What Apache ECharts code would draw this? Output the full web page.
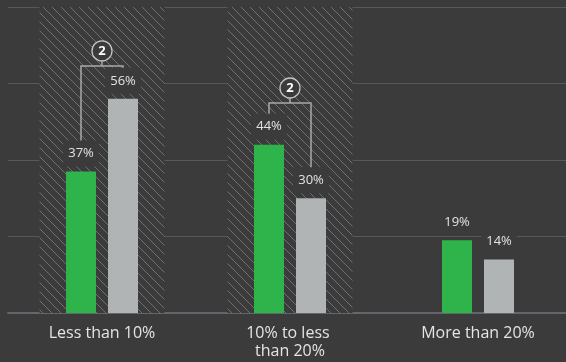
<!DOCTYPE html>
<html><head><meta charset="utf-8">
<script src="https://cdn.jsdelivr.net/npm/echarts@6/dist/echarts.min.js"></script>
<style>html,body{margin:0;padding:0;background:#3b3b3b;overflow:hidden;width:566px;height:362px;}#c{width:572px;height:362px;}</style>
</head><body><div id="c"></div>
<script>
var categories = ['Less than 10%', '10% to less than 20%', 'More than 20%'];
var greenValues = [37, 44, 19];
var grayValues = [56, 30, 14];
var highlightMax = [80, 80, null];
var bracketLevels = [64.6, 54.9, null];
var bracketLabels = ['2', '2', null];

var bg = '#3b3b3b';
var T = 9;
var hatch = document.createElement('canvas');
hatch.width = T; hatch.height = T;
var hc = hatch.getContext('2d');
hc.fillStyle = bg; hc.fillRect(0,0,T,T);
hc.strokeStyle = '#6c6e72'; hc.lineWidth = 1;
hc.beginPath();
hc.moveTo(-1,-1); hc.lineTo(T+1,T+1);
hc.moveTo(-1,T-1); hc.lineTo(1,T+1);
hc.moveTo(T-1,-1); hc.lineTo(T+1,1);
hc.stroke();

var barW = 30, barGapPx = 12;
var halfOff = (barW + barGapPx) / 2;

var bracketData = [];
for (var i = 0; i < categories.length; i++) {
  if (bracketLevels[i] != null) bracketData.push([i, greenValues[i], grayValues[i], bracketLevels[i], bracketLabels[i]]);
}

var labelStyle = {
  show: true, position: 'top', distance: 5,
  formatter: '{c}%', color: '#e2e2e2', fontSize: 13, fontFamily: 'Open Sans',
  backgroundColor: bg, padding: [6, 5], lineHeight: 14
};

var chart = echarts.init(document.getElementById('c'));
chart.setOption({
  backgroundColor: bg,
  animation: false,
  grid: { left: 8, right: 0, top: 7, bottom: 49 },
  xAxis: [{
    type: 'category', data: categories,
    axisTick: { show: false },
    axisLine: { lineStyle: { color: '#63676d', width: 2 } },
    axisLabel: { color: '#e4e4e4', fontSize: 16, fontFamily: 'Open Sans', margin: 11, lineHeight: 18, width: 118, overflow: 'break', interval: 0 }
  }, {
    type: 'category', data: categories, show: false
  }],
  yAxis: [{
    type: 'value', min: 0, max: 80, interval: 20,
    axisLabel: { show: false }, axisLine: { show: false }, axisTick: { show: false },
    splitLine: { lineStyle: { color: '#56585d', width: 1 } }
  }],
  series: [{
    type: 'bar', xAxisIndex: 1, data: highlightMax, barWidth: 125, z: 0, silent: true,
    itemStyle: { color: { image: hatch, repeat: 'repeat' } }
  }, {
    type: 'custom', xAxisIndex: 0, z: 1, silent: true,
    data: bracketData,
    renderItem: function (params, api) {
      var cat = api.value(0);
      var cx = api.coord([cat, 0])[0];
      var xl = cx - halfOff, xr = cx + halfOff;
      var yH = api.coord([cat, api.value(3)])[1];
      var yl = api.coord([cat, api.value(1)])[1] - 12;
      var yr = api.coord([cat, api.value(2)])[1] - 12;
      var cy = yH - 15;
      return { type: 'group', children: [
        { type: 'polyline', shape: { points: [[xl, yl], [xl, yH], [xr, yH], [xr, yr]] },
          style: { stroke: '#a9a9a9', lineWidth: 1.5, fill: null } },
        { type: 'line', shape: { x1: cx, y1: cy + 10, x2: cx, y2: yH },
          style: { stroke: '#a9a9a9', lineWidth: 1.5 } },
        { type: 'circle', shape: { cx: cx, cy: cy, r: 10 },
          style: { fill: bg, stroke: '#c4c4c4', lineWidth: 1.3 } },
        { type: 'text', x: cx, y: cy + 0.5,
          style: { text: bracketLabels[cat], fill: '#ffffff', font: 'bold 13px "Open Sans"', align: 'center', verticalAlign: 'middle' } }
      ]};
    }
  }, {
    type: 'bar', name: 'green', data: greenValues, barWidth: barW, barGap: '40%', z: 3,
    itemStyle: { color: '#2fb34b' }, label: labelStyle
  }, {
    type: 'bar', name: 'gray', data: grayValues, barWidth: barW, barGap: '40%', z: 3,
    itemStyle: { color: '#b1b4b5' }, label: labelStyle
  }]
});
</script></body></html>
